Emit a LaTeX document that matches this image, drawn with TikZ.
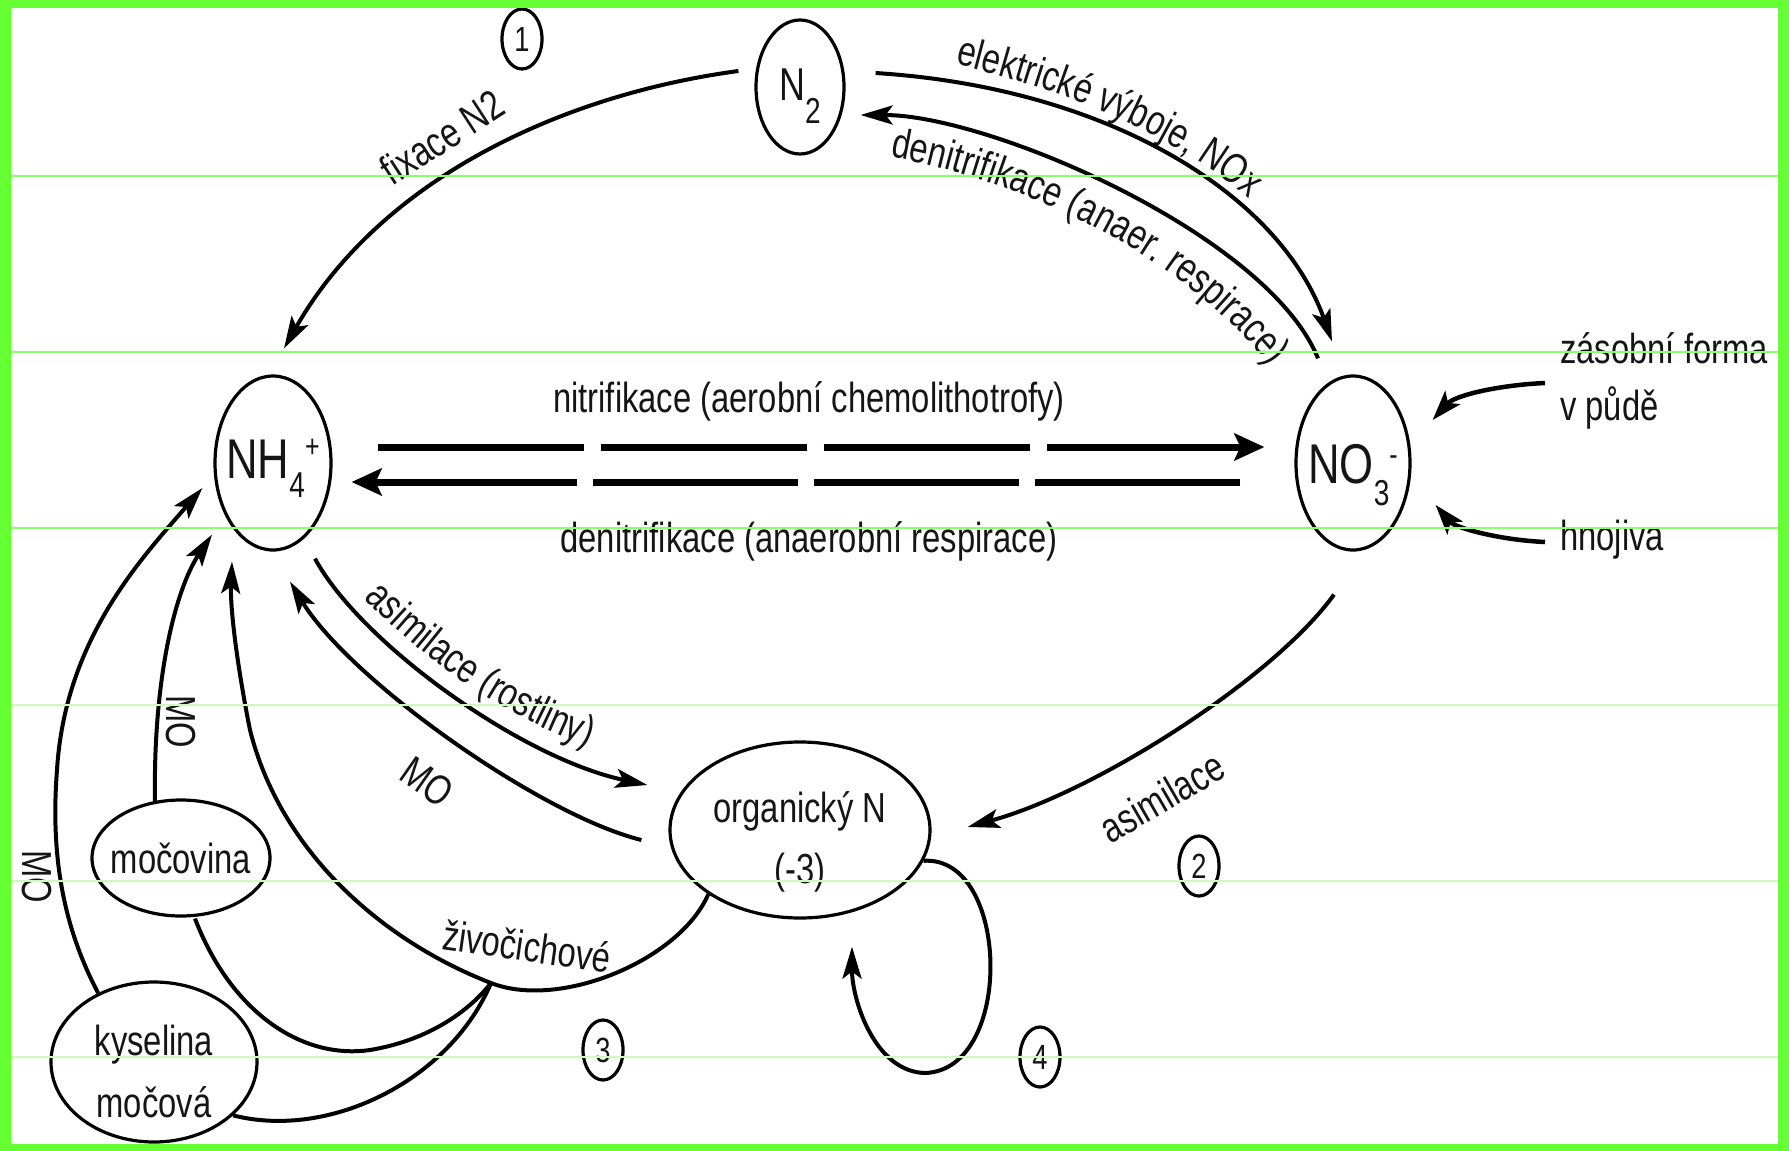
\documentclass[tikz,border=0pt]{standalone}
\usepackage{fontspec}
\setmainfont{Liberation Sans}[FakeStretch=0.78]
\usetikzlibrary{arrows.meta,decorations.text,shapes.geometric,calc}
\definecolor{bgreen}{HTML}{66FF33}
\definecolor{lgreenA}{HTML}{8CFF6E}
\definecolor{lgreenB}{HTML}{CFF8C4}
\definecolor{ink}{HTML}{151515}
\newcommand{\labf}{\fontsize{42}{50}\selectfont}
\newcommand{\bigf}{\fontsize{56}{60}\selectfont}
\newcommand{\subf}{\fontsize{36}{40}\selectfont}
\newcommand{\supf}{\fontsize{32}{36}\selectfont}
\newcommand{\numf}{\fontsize{35}{40}\selectfont}
\begin{document}
\begin{tikzpicture}[x=1pt,y=-1pt,
  every node/.style={text=ink},
  ell/.style={draw, ellipse, line width=3.2pt, inner sep=0pt},
  num/.style={draw, ellipse, line width=3.2pt, inner sep=0pt, minimum width=40pt, minimum height=60pt, font=\numf},
  lab/.style={font=\labf, inner sep=0pt},
  conn/.style={line width=4pt, line cap=butt},
  arr/.style={conn, -{Stealth[length=32pt,width=19pt,inset=7pt]}},
  harr/.style={line width=7pt, -{Stealth[length=30pt,width=27pt,inset=6pt]}},
  txtpath/.style={decorate, decoration={text along path, text={|\color{ink}\labf|#1}}}
]
\useasboundingbox (0,0) rectangle (1789,1151);
\fill[white] (0,0) rectangle (1789,1151);

% nodes
\node[ell, minimum width=88pt, minimum height=134pt, font=\fontsize{46}{50}\selectfont, text height=36pt, text depth=10pt] (n2) at (800,87) {N\raisebox{-23pt}{\subf 2}};
\node[ell, minimum width=116pt, minimum height=174pt, font=\bigf, inner xsep=-10pt, text height=44pt, text depth=14pt] (nh4) at (273,463) {NH\raisebox{-19pt}{\subf 4}\raisebox{21pt}{\supf +}};
\node[ell, minimum width=114pt, minimum height=174pt, font=\bigf, inner xsep=-10pt, text height=50pt, text depth=10pt] (no3) at (1353,463) {NO\raisebox{-22pt}{\subf 3}\raisebox{18pt}{\supf -}};
\node[ell, minimum width=260pt, minimum height=176pt] (org) at (800,830) {};
\node[lab, anchor=base] (orgt1) at ([yshift=8pt]org.center) {organický N};
\node[lab, anchor=base] (orgt2) at ([yshift=-53pt]org.center) {(-3)};
\node[ell, minimum width=178pt, minimum height=116pt, font=\labf, inner xsep=-16pt] (moc) at (181,858) {močovina};
\node[ell, minimum width=206pt, minimum height=160pt] (kys) at (154,1062) {};
\node[lab, anchor=base] (kyst1) at ([yshift=7pt]kys.center) {kyselina};
\node[lab, anchor=base] (kyst2) at ([yshift=-55pt]kys.center) {močová};

\node[num] (c1) at (522,39) {1};
\node[num] (c2) at (1199,866) {2};
\node[num] (c3) at (603,1050) {3};
\node[num] (c4) at (1040,1057) {4};

% labels
\node[lab, anchor=base] (nitr) at (809,412) {nitrifikace (aerobní chemolithotrofy)};
\node[lab, anchor=base] (denit) at (809,552) {denitrifikace (anaerobní respirace)};
\node[lab, anchor=base west] (zas) at (1560,363) {zásobní forma};
\node[lab, anchor=base west] (pude) at (1560,420) {v půdě};
\node[lab, anchor=base west] (hn) at (1560,550) {hnojiva};
\node[lab, rotate=33] (fix) at (442,137) {fixace N2};
\node[lab, rotate=-35] (mo1) at (427,782) {MO};
\node[lab, rotate=-90] (mo2) at (181,722) {MO};
\node[lab, rotate=-90] (mo3) at (37,877) {MO};
\node[lab, rotate=-8] (ziv) at (527,946) {živočichové};
\node[lab, rotate=30] (asi2) at (1162,797) {asimilace};

\path[txtpath={elektrické výboje, NOx}] (955,64) .. controls (1060,90) and (1180,130) .. (1275,222);
\path[txtpath={denitrifikace (anaer. respirace)}] (890,157) .. controls (1020,180) and (1195,255) .. (1288,390);
\path[txtpath={asimilace (rostliny)}] (364,598) .. controls (428,664) and (528,738) .. (652,765);

\coordinate (junc) at (491,983);

% connectors
\draw[arr] ([shift={(-16,-16)}]n2.west) .. controls (560,95) and (380,180) .. ([shift={(11,-26)}]nh4.north);
\draw[arr] ([shift={(30,-14)}]n2.east) .. controls (1110,88) and (1280,195) .. ([shift={(-21,-33)}]no3.north);
\draw[arr] ([shift={(-35,-16)}]no3.north) .. controls (1268,235) and (990,115) .. ([shift={(15,28)}]n2.east);
\draw[harr, dash pattern=on 206pt off 17pt] ([shift={(45,-16)}]nh4.east) -- ([shift={(-30,-16)}]no3.west);
\draw[harr, dash pattern=on 205pt off 16pt] ([shift={(-54,19)}]no3.west) -- ([shift={(19,19)}]nh4.east);
\draw[conn, line width=4.5pt, -{Stealth[length=30pt,width=20pt,inset=7pt]}] ([shift={(-15,20)}]zas.base west) .. controls (1500,385) and (1455,395) .. ([shift={(21,-43)}]no3.east);
\draw[conn, line width=4.5pt, -{Stealth[length=30pt,width=20pt,inset=7pt]}] ([shift={(-15,-8)}]hn.base west) .. controls (1500,540) and (1455,528) .. ([shift={(24,42)}]no3.east);
\draw[arr] ([shift={(-19,43)}]no3.south) .. controls (1274,678) and (1096,792) .. ([shift={(36,-3)}]org.east);
\draw[arr] ([shift={(42,7)}]nh4.south) .. controls (360,642) and (520,758) .. ([shift={(-21,-45)}]org.west);
\draw[arr] ([shift={(-27,10)}]org.west) .. controls (540,815) and (350,680) .. ([shift={(17,30)}]nh4.south);
\draw[arr] (kys.129) .. controls (65,930) and (50,860) .. (57,770) .. controls (65,640) and (140,560) .. ([shift={(-11,25)}]nh4.west);
\draw[arr] ([shift={(-26,3)}]moc.north) .. controls (153,680) and (175,590) .. ([shift={(-61,-17)}]nh4.south);
\draw[arr] (org.215) .. controls (680,960) and (560,1010) .. (junc) .. controls (380,940) and (280,850) .. (250,730) .. controls (238,670) and (230,610) .. ([shift={(-41,10)}]nh4.south);
\draw[conn] ([shift={(14,1)}]moc.south) .. controls (230,1010) and (300,1060) .. (370,1050) .. controls (430,1040) and (470,1010) .. (junc);
\draw[conn] (kys.-34) .. controls (330,1140) and (450,1080) .. (junc);
\draw[arr] (org.-14) .. controls (1010,855) and (1015,1070) .. (925,1073) .. controls (875,1072) and (852,1000) .. ([shift={(52,27)}]org.south);

% frame and faint guide lines
\foreach \yy in {176,352,528} \draw[lgreenA, line width=1.2pt] (11,\yy) -- (1778,\yy);
\foreach \yy in {705,881,1057} \draw[lgreenB, line width=1.2pt] (11,\yy) -- (1778,\yy);
\fill[bgreen] (0,0) rectangle (1789,8);
\fill[bgreen] (0,1144) rectangle (1789,1151);
\fill[bgreen] (0,0) rectangle (11,1151);
\fill[bgreen] (1778,0) rectangle (1789,1151);
\end{tikzpicture}
\end{document}
